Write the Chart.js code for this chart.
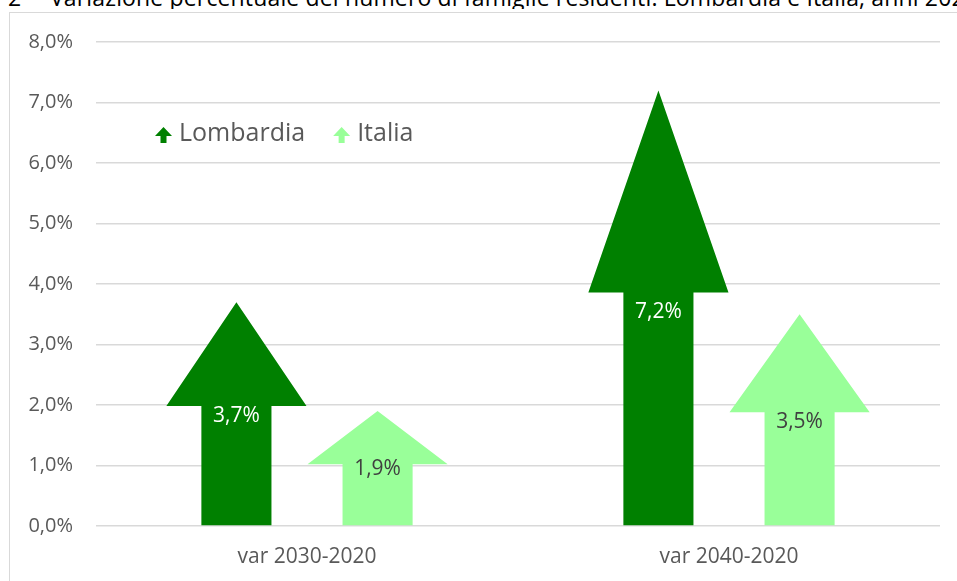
<!DOCTYPE html>
<html>
<head>
<meta charset="utf-8">
<script src="https://cdn.jsdelivr.net/npm/chart.js@4.4.1/dist/chart.umd.min.js"></script>
<style>
  body { margin: 0; background: #fff; overflow: hidden; }
  #title {
    position: absolute; left: 8px; top: -14px; width: 949px;
    font-family: "Open Sans", sans-serif; font-size: 23px; line-height: 23px;
    letter-spacing: 0.15px;
    color: #000; white-space: nowrap; overflow: hidden;
  }
  #title .num { display: inline-block; width: 42px; }
  #frame {
    position: absolute; left: 9px; top: 12px; width: 1200px; height: 800px;
    border: 1px solid #d9d9d9;
  }
  #wrap { position: absolute; left: 0; top: 0; width: 957px; height: 581px; }
</style>
</head>
<body>
<div id="title"><span class="num">2</span>Variazione percentuale del numero di famiglie residenti. Lombardia e Italia, anni 2020-2040</div>
<div id="frame"></div>
<div id="wrap"><canvas id="chart" width="957" height="581"></canvas></div>
<script>
const categories = ['var 2030-2020', 'var 2040-2020']
const lombardia = [3.7, 7.2]
const italia = [1.9, 3.5]
const yTicks = [0, 1, 2, 3, 4, 5, 6, 7, 8]

const fmt = (v) => v.toFixed(1).replace('.', ',') + '%'
const FONT = '"Open Sans", sans-serif'

// sagoma a freccia: punta sul valore, testa ~46% della lunghezza
const drawArrow = (ctx, cx, top, base, w, color) => {
    const headH = (base - top) * 0.465
    const shaft = w / 2
    ctx.beginPath()
    ctx.moveTo(cx - shaft / 2, base)
    ctx.lineTo(cx - shaft / 2, top + headH)
    ctx.lineTo(cx - w / 2, top + headH)
    ctx.lineTo(cx, top)
    ctx.lineTo(cx + w / 2, top + headH)
    ctx.lineTo(cx + shaft / 2, top + headH)
    ctx.lineTo(cx + shaft / 2, base)
    ctx.closePath()
    ctx.fillStyle = color
    ctx.fill()
}

const arrowPlugin = {
    id: 'arrows',
    beforeDatasetDraw(chart, args) {
        const ctx = chart.ctx
        const ds = chart.data.datasets[args.index]
        args.meta.data.forEach((bar, i) => {
            const w = bar.width - 1
            drawArrow(ctx, bar.x, bar.y, bar.base, w, ds.backgroundColor)
            ctx.fillStyle = ds.labelColor
            ctx.font = '21px ' + FONT
            ctx.textAlign = 'center'
            ctx.textBaseline = 'middle'
            ctx.fillText(fmt(ds.data[i]), bar.x, bar.y + (bar.base - bar.y) * 0.51)
        })
        return false
    },
    afterDraw(chart) {
        const ctx = chart.ctx
        let x = chart.chartArea.left + 59
        const cy = 134
        ctx.font = '25px ' + FONT
        ctx.textBaseline = 'middle'
        ctx.textAlign = 'left'
        chart.data.datasets.forEach((ds) => {
            ctx.beginPath()
            ctx.moveTo(x + 5.5, cy + 9)
            ctx.lineTo(x + 5.5, cy + 2)
            ctx.lineTo(x, cy + 2)
            ctx.lineTo(x + 8.5, cy - 7)
            ctx.lineTo(x + 17, cy + 2)
            ctx.lineTo(x + 11.5, cy + 2)
            ctx.lineTo(x + 11.5, cy + 9)
            ctx.closePath()
            ctx.fillStyle = ds.backgroundColor
            ctx.fill()
            x += 24
            ctx.fillStyle = '#595959'
            ctx.fillText(ds.label, x, cy)
            x += ctx.measureText(ds.label).width + 28
        })
    }
}

const ctxChart = document.getElementById('chart')

const config = {
    type: 'bar',
    data: {
        labels: categories,
        datasets: [{
            label: 'Lombardia',
            data: lombardia,
            backgroundColor: '#008000',
            labelColor: '#ffffff'
        }, {
            label: 'Italia',
            data: italia,
            backgroundColor: '#99ff99',
            labelColor: '#404040'
        }]
    },
    options: {
        responsive: false,
        animation: false,
        layout: { padding: { top: 42, right: 17, left: 0, bottom: 0 } },
        categoryPercentage: 0.669,
        barPercentage: 1,
        plugins: {
            legend: { display: false },
            tooltip: { enabled: false }
        },
        scales: {
            x: {
                grid: { display: false },
                border: { display: false },
                ticks: { color: '#595959', font: { family: FONT, size: 21 }, padding: 10 },
                afterFit: (s) => { s.height = 55 }
            },
            y: {
                min: 0,
                max: 8,
                afterBuildTicks: (s) => { s.ticks = yTicks.map(v => ({ value: v })) },
                grid: { color: '#d9d9d9', lineWidth: 1.5, drawTicks: false },
                border: { display: false },
                ticks: { color: '#595959', font: { family: FONT, size: 20 }, padding: 23, callback: (v) => fmt(v) },
                afterFit: (s) => { s.width = 96 }
            }
        }
    },
    plugins: [arrowPlugin]
}

const chart = new Chart(ctxChart, config)
</script>
</body>
</html>
